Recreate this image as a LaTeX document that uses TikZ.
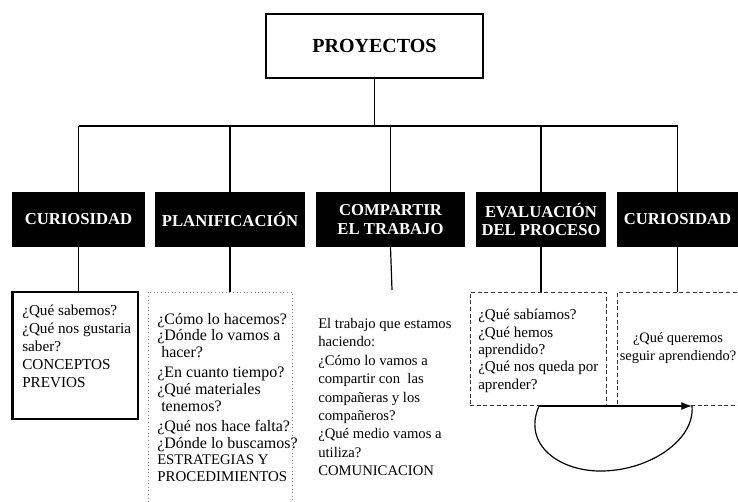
\documentclass[tikz,border=0pt]{standalone}
\usepackage{fontspec}
\setmainfont{Liberation Serif}
\usetikzlibrary{arrows.meta}

\begin{document}
\begin{tikzpicture}[x=0.75pt,y=-0.75pt,
	rama/.style={line width=0.9pt},
	cabeza/.style={fill=black,text=white,align=center,inner sep=0pt,minimum height=41.25pt,
		font=\fontsize{12.5}{14}\selectfont\bfseries},
	texto/.style={align=left,inner sep=0pt,anchor=north west}]
	\useasboundingbox (0,0) rectangle (738,502);

	% raiz
	\node[draw,line width=0.8pt,minimum width=162.75pt,minimum height=48pt,
		font=\fontsize{15}{18}\selectfont\bfseries] (proy) at (374.5,46) {PROYECTOS};

	% cabeceras negras
	\node[cabeza,minimum width=99.75pt] (cur1) at (78.5,219.5) {CURIOSIDAD};
	\node[cabeza,minimum width=112.5pt] (plan) at (230,219.5) {PLANIFICACIÓN};
	\node[cabeza,minimum width=111.75pt] (comp) at (390.5,219.5) {COMPARTIR\\EL TRABAJO};
	\node[cabeza,minimum width=97.5pt] (eval) at (541,219.5) {EVALUACIÓN\\DEL PROCESO};
	\node[cabeza,minimum width=90.75pt] (cur2) at (677.5,219.5) {CURIOSIDAD};

	% ramas
	\coordinate (bus) at (374.5,126);
	\draw[rama] (proy.south) -- (bus);
	\draw[rama] (cur1.north |- bus) -- (cur2.north |- bus);
	\foreach \n in {cur1,plan,comp,eval,cur2}
		\draw[rama] (\n.north |- bus) -- (\n.north);

	% cajas de preguntas
	\node[draw,line width=1.2pt,minimum width=93.75pt,minimum height=95.25pt] (caja1) at (75.5,355.5) {};
	\draw[line width=2.2pt] (caja1.north west) -- (caja1.south west);
	\node[draw=black!45,dotted,line width=0.7pt,minimum width=108pt,minimum height=159pt] (caja2) at (220,398) {};
	\node[draw=black!80,densely dashed,line width=0.6pt,minimum width=102pt,minimum height=84.75pt] (caja4) at (538,348.5) {};
	\node[draw=black!80,densely dashed,line width=0.6pt,minimum width=92.25pt,minimum height=84.75pt] (caja5) at (679,348.5) {};
	\coordinate (fin3) at (392,290);

	\draw[rama] (cur1.south) -- (cur1.south |- caja1.north);
	\draw[rama] (plan.south) -- (plan.south |- caja2.north);
	\draw[rama] (comp.south) -- (fin3);
	\draw[rama] (eval.south) -- (eval.south |- caja4.north);
	\draw[rama] (cur2.south) -- (cur2.south |- caja5.north);

	% textos
	\node[texto,font=\fontsize{11.4}{13.5}\selectfont] (txt1) at (22,305)
		{¿Qué sabemos?\\¿Qué nos gustaria\\saber?\\CONCEPTOS\\PREVIOS};
	\node[texto,font=\fontsize{12}{12.4}\selectfont] (txt2) at (157,313)
		{¿Cómo lo hacemos?\\¿Dónde lo vamos a\\\ hacer?\\[3pt]¿En cuanto tiempo?\\¿Qué materiales\\\ tenemos?\\[3pt]¿Qué nos hace falta?\\¿Dónde lo buscamos?\\{\fontsize{11}{12.4}\selectfont ESTRATEGIAS Y}\\{\fontsize{11.2}{12.4}\selectfont PROCEDIMIENTOS}};
	\node[texto,font=\fontsize{11}{13.8}\selectfont] (txt3) at (318,318)
		{El trabajo que estamos\\haciendo:\\¿Cómo lo vamos a\\compartir con\ \ las\\compañeras y los\\compañeros?\\¿Qué medio vamos a\\utiliza?\\COMUNICACION};
	\node[texto,font=\fontsize{11.3}{13}\selectfont] (txt4) at (478,309)
		{¿Qué sabíamos?\\¿Qué hemos\\aprendido?\\¿Qué nos queda por\\aprender?};
	\node[align=center,inner sep=0pt,font=\fontsize{10.8}{13.5}\selectfont] (txt5) at (678,348)
		{¿Qué queremos\\seguir aprendiendo?};

	% flecha de vuelta
	\coordinate (ini) at (539,406);
	\coordinate (fin) at (692,406);
	\draw[rama,-{Latex[length=8pt,width=6pt]}] (ini) -- (fin);
	\draw[rama] (ini) .. controls (522,445) and (560,472) .. (603,471)
		.. controls (650,470) and (695,440) .. (fin);
\end{tikzpicture}
\end{document}
